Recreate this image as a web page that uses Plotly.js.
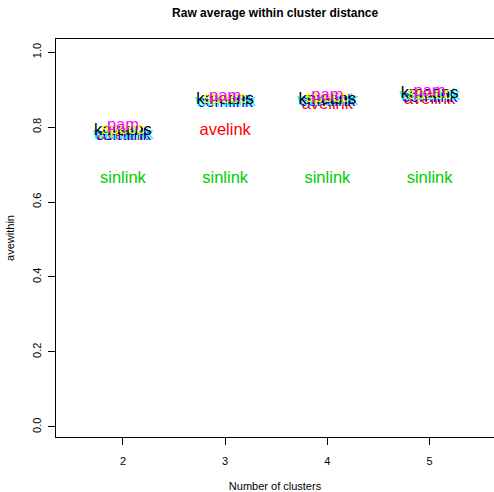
<!DOCTYPE html>
<html><head><meta charset="utf-8">
<script src="https://cdn.plot.ly/plotly-3.0.1.min.js"></script>
<style>body{margin:0;padding:0;background:#fff}#chart{width:494px;height:492px}</style>
</head><body><div id="chart"></div>
<script>
var clusters = [2, 3, 4, 5];
var methods = ["avelink", "sinlink", "comlink", "wardlink", "kmeans", "specc", "pam"];
var methodColors = ["#FF0000", "#00CD00", "#0000FF", "#00FFFF", "#000000", "#FFFF00", "#FF00FF"];
var avelink  = [0.776, 0.789, 0.860, 0.873];
var sinlink  = [0.661, 0.661, 0.661, 0.661];
var comlink  = [0.776, 0.864, 0.866, 0.878];
var wardlink = [0.780, 0.868, 0.870, 0.882];
var kmeans   = [0.789, 0.872, 0.872, 0.888];
var specc    = [0.792, 0.876, 0.878, 0.886];
var pam      = [0.802, 0.880, 0.884, 0.893];
var values = [avelink, sinlink, comlink, wardlink, kmeans, specc, pam];
var yTicks = [0, 0.2, 0.4, 0.6, 0.8, 1.0];
var yTickText = ['0.0', '0.2', '0.4', '0.6', '0.8', '1.0'];

var traces = methods.map(function(m, i){
  return {x: clusters, y: values[i], mode: 'text', text: clusters.map(function(){return m;}),
    textposition: 'middle center', textfont: {family: 'Liberation Sans, Arial, sans-serif', size: 16.5, color: methodColors[i]},
    showlegend: false, hoverinfo: 'skip', cliponaxis: false, type: 'scatter'};
});

var layout = {
  width: 494, height: 492, autosize: false,
  margin: {l: 56, r: 0, t: 39, b: 55, pad: 0},
  paper_bgcolor: '#fff', plot_bgcolor: '#fff',
  font: {family: 'Liberation Sans, Arial, sans-serif', color: '#000'},
  title: {text: '<b>Raw average within cluster distance</b>', font: {size: 12}, x: 0.557, xanchor: 'center', y: 0.973, yanchor: 'middle'},
  xaxis: {range: [1.345, 5.63], tickvals: clusters, ticktext: clusters.map(String), ticks: 'outside', ticklen: 7, tickcolor: '#000',
    showline: true, linecolor: '#000', linewidth: 1, mirror: true, showgrid: false, zeroline: false,
    ticklabelstandoff: 7,
    tickfont: {size: 11}, title: {text: 'Number of clusters', font: {size: 11}, standoff: 18}},
  yaxis: {range: [-0.027, 1.035], tickvals: yTicks, ticktext: yTickText,
    ticks: 'outside', ticklen: 7, tickcolor: '#000', tickangle: -90,
    showline: true, linecolor: '#000', linewidth: 1, showgrid: false, zeroline: false,
    ticklabelstandoff: 3,
    tickfont: {size: 11}, title: {text: 'avewithin', font: {size: 11}, standoff: 13}}
};
Plotly.newPlot('chart', traces, layout, {displayModeBar: false, staticPlot: true});
</script></body></html>
